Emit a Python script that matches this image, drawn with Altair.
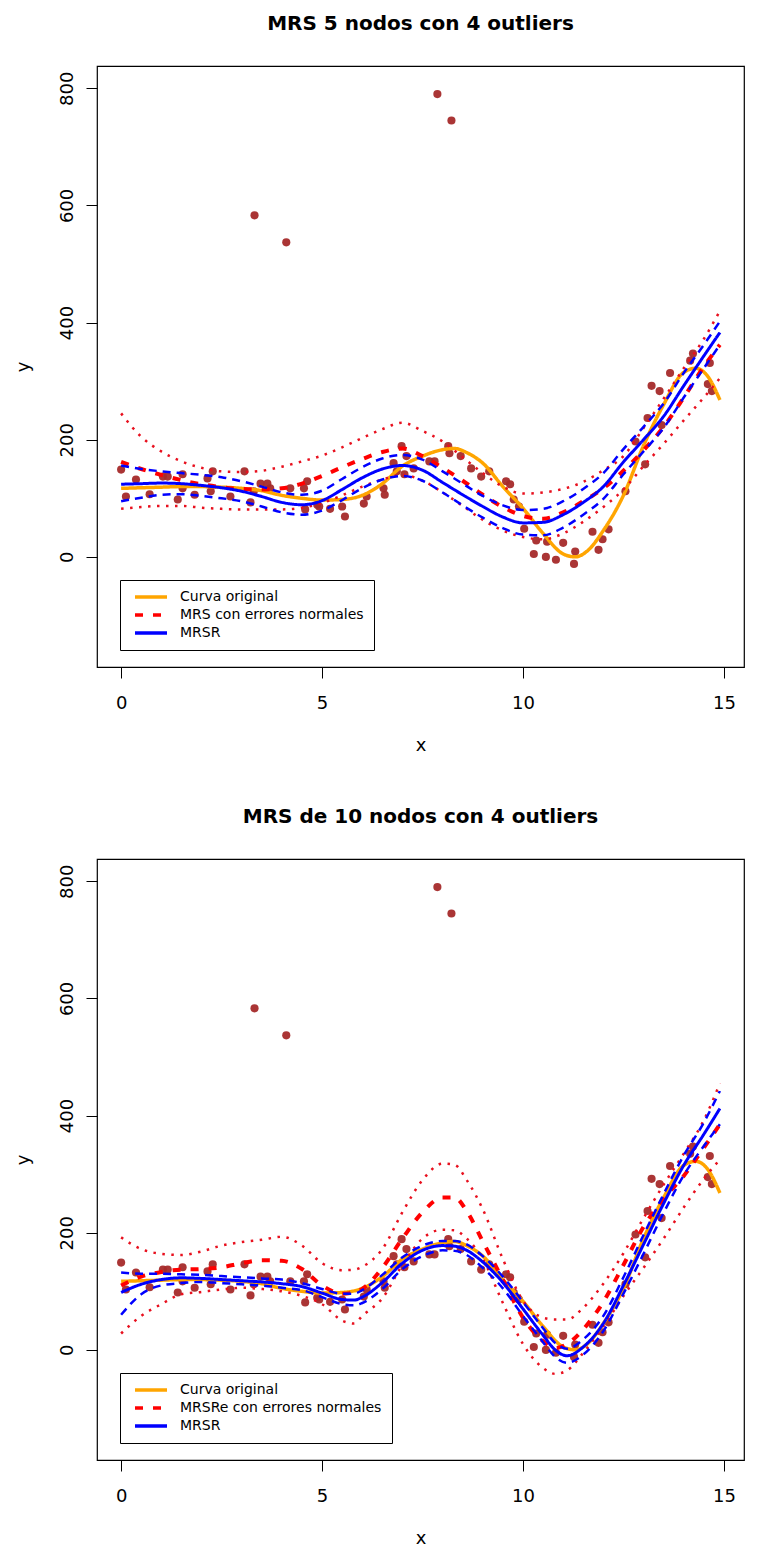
import altair as alt
import pandas as pd

# ---- observed data (shared by both panels) ----
x_puntos = [0.00, 0.12, 0.37, 0.71, 1.04, 1.16, 1.41, 1.53, 1.53, 1.83,
            2.15, 2.23, 2.28, 2.72, 3.07, 3.22, 3.30, 3.47, 3.64, 3.71,
            4.21, 4.55, 4.58, 4.63, 4.88, 4.93, 5.20, 5.50, 5.57, 6.04,
            6.11, 6.53, 6.56, 6.78, 6.86, 6.98, 7.05, 7.10, 7.28, 7.67,
            7.80, 8.14, 8.17, 8.45, 8.71, 8.96, 9.16, 9.58, 9.68, 9.77,
            9.90, 10.03, 10.27, 10.33, 10.57, 10.60, 10.82, 11.00, 11.27, 11.30,
            11.73, 11.88, 11.98, 12.13, 12.55, 12.80, 13.04, 13.10, 13.20, 13.40,
            13.45, 13.66, 14.16, 14.23, 14.60, 14.65, 14.70,
            3.32, 4.11, 7.87, 8.22]
y_puntos = [149, 103, 132, 107, 137, 137, 98, 141, 117, 106,
            134, 112, 146, 103, 146, 93, 112, 125, 125, 117,
            117, 117, 81, 129, 89, 86, 82, 86, 69, 91,
            103, 117, 106, 160, 146, 189, 141, 172, 151, 163,
            163, 189, 177, 172, 151, 137, 146, 129, 124, 98,
            86, 48, 5, 28, 0, 26, -5, 24, -12, 9,
            43, 12, 30, 47, 112, 197, 158, 237, 292, 283,
            225, 314, 335, 347, 295, 331, 283,
            583, 537, 790, 745]

# ---- true curve ----
curva_x = [0, 0.5, 1, 1.5, 2, 2.5, 3, 3.5, 4, 4.5, 5, 5.5, 6, 6.5, 7, 7.5, 8, 8.3, 8.6,
           9, 9.5, 10, 10.5, 11, 11.3, 11.6, 12, 12.5, 13, 13.5, 14, 14.3, 14.6, 14.9]
curva_y = [117, 118, 119, 120, 120, 119, 117, 113, 105, 100, 97, 98, 105, 125, 155, 172, 183, 185, 178,
           160, 120, 83, 40, 5, 0, 10, 45, 105, 190, 260, 315, 322, 308, 268]

# ---- panel 1: 5 knots ----
p1_x = [0, 0.5, 1, 1.5, 2, 2.5, 3, 3.5, 4, 4.5, 5, 5.5, 6, 6.5, 7, 7.5, 8, 8.5,
        9, 9.5, 10, 10.5, 11, 11.5, 12, 12.5, 13, 13.5, 14, 14.5, 14.9]
mrs1_y = [162, 150, 140, 131, 124, 119, 116, 115, 117, 125, 138, 153, 167, 179, 185, 172, 152, 130,
          106, 85, 70, 65, 76, 95, 117, 147, 182, 222, 272, 325, 362]
mrs1_sup = [245, 205, 180, 163, 152, 146, 145, 147, 154, 163, 173, 187, 203, 218, 229, 215, 197, 170,
            143, 120, 108, 110, 116, 128, 148, 172, 220, 270, 322, 372, 420]
mrs1_inf = [82, 85, 87, 87, 84, 82, 81, 81, 81, 84, 92, 105, 120, 132, 140, 130, 110, 87,
            63, 45, 34, 30, 40, 60, 85, 115, 155, 193, 233, 272, 305]
mrsr1_y = [124, 125, 126, 125, 122, 118, 112, 103, 93, 89, 96, 115, 135, 150, 156, 148, 127, 106,
           86, 68, 58, 59, 72, 93, 120, 162, 200, 240, 292, 343, 383]
mrsr1_sup = [156, 150, 146, 143, 140, 136, 129, 120, 110, 106, 113, 133, 153, 168, 174, 166, 146, 125,
             104, 88, 80, 82, 95, 116, 143, 184, 222, 262, 314, 362, 402]
mrsr1_inf = [95, 101, 106, 107, 104, 100, 95, 86, 76, 72, 79, 97, 117, 132, 138, 130, 110, 88,
             67, 49, 38, 37, 50, 72, 99, 141, 180, 220, 272, 322, 362]

# ---- panel 2: 10 knots ----
p2_x = [0, 0.5, 1, 1.5, 2, 2.5, 3, 3.5, 4, 4.5, 5, 5.5, 5.8, 6, 6.5, 7, 7.5, 8, 8.3, 8.6,
        9, 9.5, 10, 10.5, 10.8, 11.1, 11.5, 12, 12.5, 13, 13.5, 14, 14.5, 14.9]
mrs2_y = [110, 125, 133, 137, 138, 141, 148, 153, 152, 138, 110, 96, 98, 104, 140, 190, 235, 260, 260, 237,
          185, 120, 55, 15, 3, 10, 35, 82, 145, 210, 258, 297, 345, 385]
mrs2_sup = [192, 172, 164, 162, 168, 178, 184, 188, 193, 178, 148, 136, 137, 142, 172, 235, 290, 318, 316, 290,
            240, 155, 84, 55, 52, 52, 72, 113, 165, 225, 282, 335, 392, 455]
mrs2_inf = [28, 58, 78, 95, 99, 103, 106, 104, 100, 92, 78, 50, 45, 58, 88, 145, 190, 205, 204, 190,
            155, 80, 10, -31, -41, -35, -5, 40, 92, 140, 190, 243, 292, 325]
mrsr2_y = [98, 112, 120, 123, 122, 120, 118, 116, 113, 108, 97, 86, 85, 90, 115, 148, 170, 178, 177, 170,
           150, 115, 70, 25, 0, -10, 5, 45, 110, 180, 250, 315, 368, 412]
mrsr2_sup = [132, 130, 130, 129, 128, 126, 124, 122, 120, 114, 104, 96, 96, 102, 128, 158, 178, 186, 186, 180,
             160, 125, 82, 37, 12, 2, 18, 58, 124, 196, 266, 332, 388, 442]
mrsr2_inf = [60, 95, 110, 114, 116, 114, 112, 110, 106, 102, 90, 78, 76, 80, 104, 138, 160, 170, 169, 162,
             140, 105, 58, 13, -12, -22, -8, 32, 96, 164, 234, 298, 348, 385]

FONT = "DejaVu Sans"
XDOM = [-0.6, 15.5]
YDOM = [-188, 838]
W, H = 647, 601


def panel(titulo, nombre_mrs, fx, mrs_y, mrs_sup, mrs_inf, mrsr_y, mrsr_sup, mrsr_inf):
    series = ["Curva original", nombre_mrs, "MRSR"]
    leyenda = alt.Legend(title=None, orient="none", legendX=23, legendY=514)
    color = alt.Color(
        "serie:N",
        scale=alt.Scale(domain=series, range=["#FFA500", "#FF0000", "#0000FF"]),
        legend=leyenda,
    )
    dash = alt.StrokeDash(
        "serie:N",
        scale=alt.Scale(domain=series, range=[[1, 0], [8, 10], [1, 0]]),
        legend=leyenda,
    )
    xenc = alt.X("x:Q", scale=alt.Scale(domain=XDOM, nice=False, zero=False),
                 axis=alt.Axis(values=[0, 5, 10, 15], title="x", labelFlush=False,
                               labelPadding=16, titlePadding=24))
    yenc = alt.Y("y:Q", scale=alt.Scale(domain=YDOM, nice=False, zero=False),
                 axis=alt.Axis(values=[0, 200, 400, 600, 800], title="y", labelAngle=270,
                               labelAlign="center", labelBaseline="alphabetic",
                               labelPadding=14, titlePadding=26))

    pts = pd.DataFrame({"x": x_puntos, "y": y_puntos})
    puntos = alt.Chart(pts).mark_circle(size=66, color="#A52A2A", opacity=0.95).encode(x=xenc, y=yenc)

    def linea(xs, ys, nombre, ancho):
        df = pd.DataFrame({"x": xs, "y": ys, "serie": nombre})
        return alt.Chart(df).mark_line(strokeWidth=ancho, interpolate="monotone", strokeCap="butt").encode(
            x="x:Q", y="y:Q", color=color, strokeDash=dash)

    def banda(ys_sup, ys_inf, col, patron, ancho):
        df = pd.concat([
            pd.DataFrame({"x": fx, "y": ys_sup, "lado": "sup"}),
            pd.DataFrame({"x": fx, "y": ys_inf, "lado": "inf"}),
        ])
        return alt.Chart(df).mark_line(strokeWidth=ancho, interpolate="monotone", strokeCap="butt").encode(
            x="x:Q", y="y:Q", detail="lado:N",
            color=alt.value(col), strokeDash=alt.value(patron))

    capas = [
        puntos,
        linea(curva_x, curva_y, "Curva original", 3.5),
        linea(fx, mrs_y, nombre_mrs, 4),
        banda(mrs_sup, mrs_inf, "#E8101E", [2.5, 6.5], 2.5),
        linea(fx, mrsr_y, "MRSR", 3),
        banda(mrsr_sup, mrsr_inf, "#0000FF", [8, 6], 2.5),
    ]
    return alt.layer(*capas).properties(
        width=W, height=H,
        title=alt.TitleParams(titulo, anchor="middle", frame="group", offset=32,
                              font=FONT, fontSize=20, fontWeight="bold", color="black"),
    )


p1 = panel("MRS 5 nodos con 4 outliers", "MRS con errores normales",
           p1_x, mrs1_y, mrs1_sup, mrs1_inf, mrsr1_y, mrsr1_sup, mrsr1_inf)
p2 = panel("MRS de 10 nodos con 4 outliers", "MRSRe con errores normales",
           p2_x, mrs2_y, mrs2_sup, mrs2_inf, mrsr2_y, mrsr2_sup, mrsr2_inf)

chart = alt.vconcat(p1, p2, spacing=51).resolve_scale(
    color="independent", strokeDash="independent"
).resolve_legend(
    color="independent", strokeDash="independent"
).properties(
    padding={"left": 13, "top": 13, "right": 0, "bottom": 0},
    background="white",
).configure_view(
    stroke="black", strokeWidth=1.2
).configure_axis(
    grid=False, domain=False, tickColor="black", tickSize=11, tickWidth=1,
    labelFont=FONT, labelFontSize=18, labelColor="black",
    titleFont=FONT, titleFontSize=18, titleFontWeight="normal", titleColor="black",
).configure_legend(
    symbolType="M-0.5,0H7.5", symbolSize=64, symbolStrokeWidth=3.5,
    labelFont=FONT, labelFontSize=14, labelColor="black", labelOffset=36, labelLimit=0,
    strokeColor="black", fillColor="white", padding=10, rowPadding=4,
)

chart.save("out.html", embed_options={"renderer": "svg", "actions": False})
